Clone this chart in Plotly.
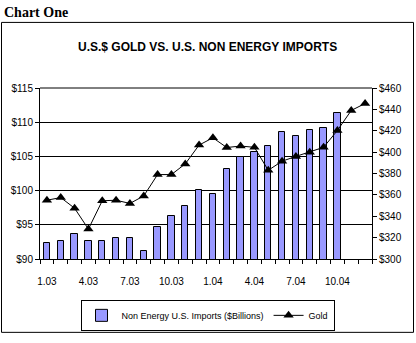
import plotly.graph_objects as go

# Monthly series, Jan 2003 - Dec 2004
months = ["1.03", "2.03", "3.03", "4.03", "5.03", "6.03", "7.03", "8.03", "9.03", "10.03", "11.03", "12.03",
          "1.04", "2.04", "3.04", "4.04", "5.04", "6.04", "7.04", "8.04", "9.04", "10.04", "11.04", "12.04"]

# Non energy U.S. imports ($ billions), available through 10.04
imports_bn = [92.4, 92.6, 93.6, 92.7, 92.7, 93.1, 93.1, 91.2, 94.7, 96.3, 97.8, 100.1,
              99.5, 103.2, 104.9, 105.7, 106.5, 108.5, 108.0, 108.9, 109.1, 111.3]

# Gold price (US$/oz)
gold = [355, 357.5, 347.5, 328, 354.5, 355, 352, 359, 379, 379, 389, 406.6,
        413.4, 404.3, 405.7, 404.5, 383, 391.5, 396, 400, 404.5, 420.3, 439, 445.5]

# Every third month gets a label
label_idx = list(range(0, len(months), 3))
label_text = [months[i] for i in label_idx]

W, H = 416, 343
L, R, T, B = 40, 44, 88, 79
PW, PH = W - L - R, H - T - B


def px_x(x):
    return (x - L) / PW


def px_y(y):
    return (H - B - y) / PH


FONT = "Liberation Sans, Arial, sans-serif"

x_pos = list(range(len(months)))

fig = go.Figure()
fig.add_trace(go.Bar(
    x=x_pos[:len(imports_bn)], y=imports_bn, base=0,
    name="Non Energy U.S. Imports ($Billions)",
    marker=dict(color="#9999FF", line=dict(color="#000000", width=1)),
    width=0.45, yaxis="y",
))
fig.add_trace(go.Scatter(
    x=x_pos, y=gold, name="Gold", mode="lines+markers",
    line=dict(color="#000000", width=1),
    marker=dict(symbol="triangle-up", size=9, color="#000000"),
    yaxis="y2",
))

fig.update_layout(
    width=W, height=H,
    margin=dict(l=L, r=R, t=T, b=B),
    paper_bgcolor="#FFFFFF", plot_bgcolor="#FFFFFF",
    font=dict(family=FONT, size=10, color="#000000"),
    bargap=0,
    showlegend=True,
    legend=dict(
        orientation="h", x=px_x(207.5), xanchor="center", y=px_y(322), yanchor="middle",
        bordercolor="#000000", borderwidth=1, bgcolor="#FFFFFF",
        font=dict(family=FONT, size=9, color="#000000"),
        itemwidth=30, tracegroupgap=0,
    ),
    xaxis=dict(
        range=[-0.5, len(months) - 0.5],
        tickmode="array", tickvals=label_idx, ticktext=label_text,
        ticks="", ticklabelstandoff=13,
        showline=True, linecolor="#000000", linewidth=1, mirror=False,
        showgrid=False, zeroline=False,
        tickfont=dict(family=FONT, size=10, color="#000000"),
        minor=dict(tickmode="array", tickvals=[i - 0.5 for i in range(len(months) + 1)],
                   ticks="outside", ticklen=4, tickcolor="#000000", tickwidth=1, showgrid=False),
    ),
    yaxis=dict(
        range=[90, 115], tickmode="linear", tick0=90, dtick=5, tickprefix="$",
        ticks="outside", ticklen=4, tickcolor="#000000",
        showline=True, linecolor="#000000", linewidth=1,
        showgrid=True, gridcolor="#000000", gridwidth=1, zeroline=False,
        tickfont=dict(family=FONT, size=10, color="#000000"),
    ),
    yaxis2=dict(
        range=[300, 460], tickmode="linear", tick0=300, dtick=20, tickprefix="$",
        overlaying="y", side="right",
        ticks="outside", ticklen=4, tickcolor="#000000",
        showline=True, linecolor="#000000", linewidth=1,
        showgrid=False, zeroline=False,
        tickfont=dict(family=FONT, size=10, color="#000000"),
    ),
    shapes=[
        # outer frame of the chart
        dict(type="rect", xref="paper", yref="paper",
             x0=px_x(1.5), x1=px_x(413.5), y0=px_y(339.5), y1=px_y(20.5),
             line=dict(color="#000000", width=1), fillcolor="rgba(0,0,0,0)", layer="below"),
        # top edge of the plotting area
        dict(type="line", xref="paper", yref="paper", x0=0, x1=1, y0=1, y1=1,
             line=dict(color="#000000", width=1)),
    ],
    annotations=[
        dict(text="<b>Chart One</b>", xref="paper", yref="paper",
             x=px_x(2), y=px_y(10), xanchor="left", yanchor="middle", showarrow=False,
             font=dict(family="Liberation Serif, Times New Roman, serif", size=14, color="#000000")),
        dict(text="<b>U.S.$ GOLD VS. U.S. NON ENERGY IMPORTS</b>", xref="paper", yref="paper",
             x=px_x(207), y=px_y(46), xanchor="center", yanchor="middle", showarrow=False,
             font=dict(family=FONT, size=12, color="#000000")),
    ],
)

fig.write_html("out.html")
